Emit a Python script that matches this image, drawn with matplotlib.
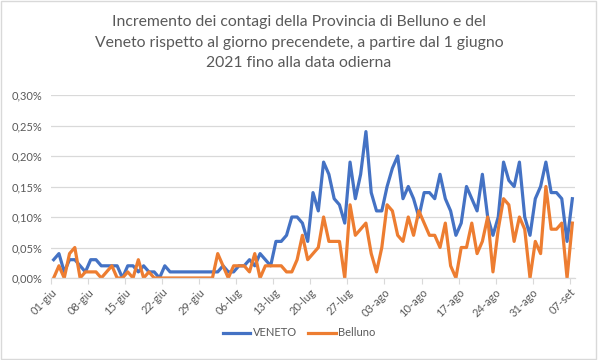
import matplotlib.pyplot as plt
import matplotlib.ticker as mticker
from matplotlib.patches import Rectangle
import numpy as np

# daily increments (%), from 01-giu-2021 to 07-set-2021
veneto = [0.03, 0.04, 0.01, 0.03, 0.03, 0.02, 0.01, 0.03, 0.03, 0.02,
          0.02, 0.02, 0.02, 0.00, 0.02, 0.02, 0.01, 0.02, 0.01, 0.01,
          0.00, 0.02, 0.01, 0.01, 0.01, 0.01, 0.01, 0.01, 0.01, 0.01,
          0.01, 0.01, 0.02, 0.01, 0.01, 0.02, 0.02, 0.03, 0.02, 0.04,
          0.03, 0.02, 0.06, 0.06, 0.07, 0.10, 0.10, 0.09, 0.06, 0.14,
          0.11, 0.19, 0.17, 0.13, 0.12, 0.09, 0.19, 0.13, 0.17, 0.24,
          0.14, 0.11, 0.11, 0.15, 0.18, 0.20, 0.13, 0.15, 0.13, 0.10,
          0.14, 0.14, 0.13, 0.17, 0.13, 0.11, 0.07, 0.09, 0.15, 0.13,
          0.11, 0.17, 0.10, 0.07, 0.10, 0.19, 0.16, 0.15, 0.19, 0.10,
          0.07, 0.13, 0.15, 0.19, 0.14, 0.14, 0.13, 0.06, 0.13]

belluno = [0.00, 0.02, 0.00, 0.04, 0.05, 0.00, 0.01, 0.01, 0.01, 0.00,
           0.01, 0.02, 0.00, 0.00, 0.01, 0.00, 0.03, 0.00, 0.01, 0.00,
           0.00, 0.00, 0.00, 0.00, 0.00, 0.00, 0.00, 0.00, 0.00, 0.00,
           0.00, 0.04, 0.02, 0.00, 0.02, 0.02, 0.02, 0.01, 0.04, 0.00,
           0.02, 0.02, 0.02, 0.02, 0.01, 0.01, 0.03, 0.07, 0.03, 0.04,
           0.05, 0.10, 0.06, 0.06, 0.06, 0.00, 0.12, 0.07, 0.08, 0.09,
           0.04, 0.01, 0.05, 0.12, 0.11, 0.07, 0.06, 0.10, 0.07, 0.11,
           0.09, 0.07, 0.07, 0.05, 0.09, 0.02, 0.00, 0.05, 0.05, 0.09,
           0.04, 0.06, 0.10, 0.01, 0.08, 0.13, 0.12, 0.06, 0.10, 0.08,
           0.00, 0.06, 0.04, 0.15, 0.08, 0.08, 0.09, 0.00, 0.09]

tick_labels = ["01-giu", "08-giu", "15-giu", "22-giu", "29-giu", "06-lug",
               "13-lug", "20-lug", "27-lug", "03-ago", "10-ago", "17-ago",
               "24-ago", "31-ago", "07-set"]

title = ("Incremento dei contagi della Provincia di Belluno e del\n"
         "Veneto rispetto al giorno precendete, a partire dal 1 giugno\n"
         "2021 fino alla data odierna")

# colors
c_veneto = '#4472C4'
c_belluno = '#ED7D31'
c_text = '#595959'
c_grid = '#D9D9D9'

plt.rcParams['font.family'] = ['Lato', 'DejaVu Sans']

fig = plt.figure(figsize=(5.98, 3.6), dpi=100)
ax = fig.add_axes([51/598, 1-278/360, 524/598, 183/360])

days = np.arange(len(veneto))
ax.plot(days, veneto, color=c_veneto, lw=2.3, label='VENETO')
ax.plot(days, belluno, color=c_belluno, lw=2.3, label='Belluno')

ax.set_xlim(-0.5, len(veneto) - 0.5)
ax.set_ylim(0, 0.30)
ax.set_yticks(np.arange(0, 0.31, 0.05))
ax.yaxis.set_major_formatter(mticker.FuncFormatter(
    lambda v, p: f"{v:.2f}%".replace('.', ',')))

ax.set_xticks(np.arange(0, len(veneto), 7) - 0.5)
ax.set_xticklabels(tick_labels, rotation=45, ha='right', rotation_mode='anchor')

ax.grid(axis='y', color=c_grid, lw=0.9)
ax.set_axisbelow(True)
for s in ['top', 'right', 'left']:
    ax.spines[s].set_visible(False)
ax.spines['bottom'].set_color(c_grid)
ax.spines['bottom'].set_linewidth(0.9)
ax.tick_params(axis='y', length=0, colors=c_text, labelsize=8, pad=6)
ax.tick_params(axis='x', length=4, colors=c_text, labelsize=8, pad=2)
ax.tick_params(axis='x', color=c_grid)

fig.text(0.5, 1 - 15/360, title, ha='center', va='top', fontsize=11.3,
         color=c_text, linespacing=1.6)

fig.legend(loc='center', bbox_to_anchor=(0.5, 1-333/360), ncol=2, frameon=False,
           fontsize=8, labelcolor=c_text, handlelength=2.5, handletextpad=0.2,
           columnspacing=1.0)

# chart border
fig.patches.append(Rectangle((0.002, 0.003), 0.995, 0.993, transform=fig.transFigure,
                             fill=False, edgecolor=c_grid, lw=1))

plt.savefig('out.png', dpi=100)
